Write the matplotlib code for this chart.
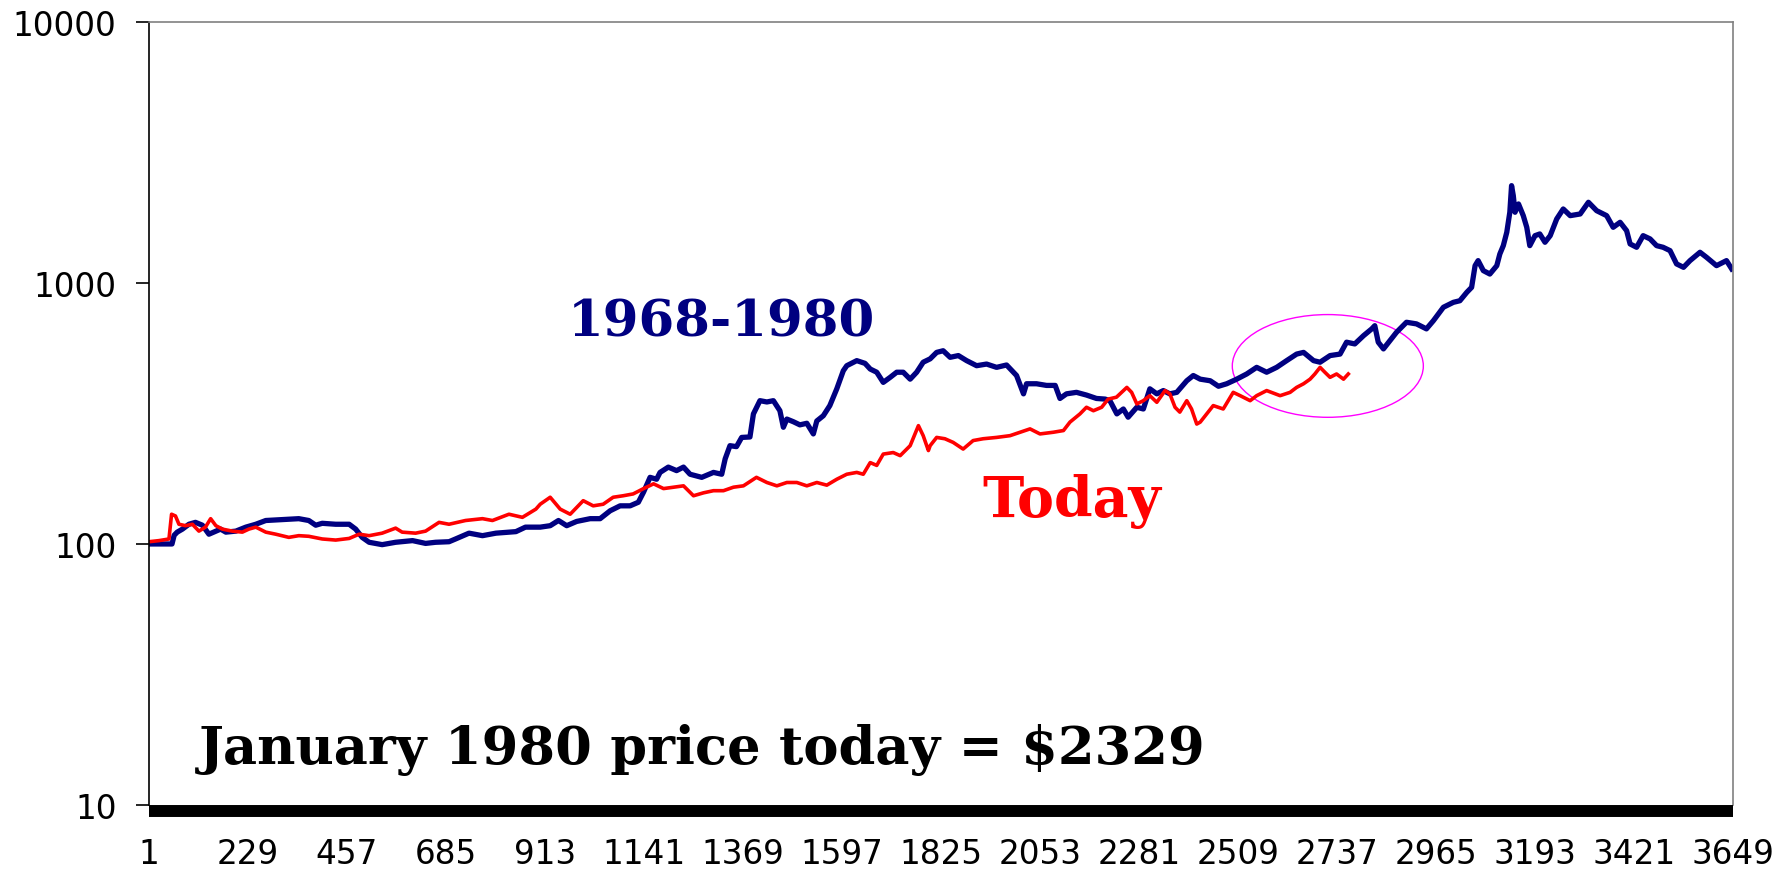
import matplotlib
matplotlib.use("Agg")
import matplotlib.pyplot as plt
from matplotlib.patches import Ellipse

# trading day index vs price indexed to 100 at start
days_1968 = [1, 54, 59, 66, 78, 93, 108, 124, 139, 155, 166, 178, 201, 224, 247, 270, 308, 346, 369, 385,
             400, 431, 462, 477, 492, 508, 538, 569, 608, 638, 661, 692, 707, 738, 769, 800, 846, 868,
             902, 925, 944, 963, 986, 1017, 1040, 1063, 1086, 1109, 1128, 1140, 1155, 1170, 1178, 1197,
             1216, 1232, 1247, 1274, 1301, 1320, 1328, 1339, 1354, 1366, 1385, 1393, 1408, 1424, 1439,
             1454, 1462, 1470, 1485, 1500, 1516, 1531, 1539, 1554, 1569, 1585, 1600, 1608, 1631, 1650,
             1662, 1677, 1692, 1708, 1723, 1738, 1754, 1769, 1784,
             1800, 1815, 1830, 1846, 1865, 1884, 1907, 1930, 1953, 1976, 1999, 2015, 2022, 2045, 2068,
             2088, 2099, 2114, 2137, 2160, 2183, 2203, 2214, 2230, 2245, 2256, 2276, 2291, 2306, 2322,
             2337, 2352, 2368, 2391, 2406,
             2422, 2445, 2464, 2483, 2506, 2529, 2552, 2575, 2598, 2621, 2644, 2660, 2683, 2698,
             2721, 2744, 2759, 2778, 2798, 2817, 2824, 2832, 2844, 2859, 2874, 2897, 2920, 2943, 2959,
             2982, 3005, 3020, 3036, 3047, 3055, 3062, 3074, 3089, 3105, 3112, 3120, 3128, 3135, 3139,
             3143, 3147, 3155, 3166, 3174, 3181, 3193, 3204, 3216, 3228, 3243, 3258, 3274, 3297, 3316,
             3335, 3358, 3373, 3389, 3404, 3412, 3427, 3442, 3458, 3473, 3488, 3504, 3519, 3535, 3550,
             3573, 3588, 3611, 3634, 3646]
price_1968 = [100, 100, 108, 111, 114, 119, 121, 118, 109, 112, 114, 111, 112, 116, 119, 123, 124, 125, 123, 118,
              120, 119, 119, 114, 106, 101.5, 99.4, 101.5, 103, 100.5, 101.5, 102, 104.5, 110, 107.6, 110, 111.5, 116,
              116, 117.5, 123, 117.5, 122, 125, 125, 134, 140, 140, 144.5, 158, 180, 177, 188, 197,
              191, 197, 185, 180, 188, 185, 212, 238, 236, 256, 257, 315, 354, 350, 354,
              324, 280, 301, 294, 286, 290, 264, 296, 310, 339, 393, 461, 482, 504, 492,
              468, 455, 416, 435, 455, 455, 428, 455, 497,
              512, 542, 550, 519, 527, 504, 482, 489, 475, 485, 442, 376, 411, 411, 405,
              405, 361, 376, 381, 372, 361, 359, 354, 315, 329, 306, 334, 329, 393, 376,
              387, 376, 381, 422, 442,
              428, 422, 402, 411, 428, 448, 475, 455, 475, 504, 534, 542, 504, 497,
              527, 534, 593, 584, 628, 667, 686, 593, 559, 601, 647, 707, 697, 667, 717,
              807, 843, 855, 921, 962, 1165, 1218, 1115, 1082, 1165, 1291, 1390, 1564, 1866, 2360,
              2161, 1866, 2008, 1811, 1634, 1390, 1518, 1541, 1432, 1518, 1759, 1921, 1811, 1838, 2038,
              1892, 1811, 1634, 1708, 1586, 1411, 1370, 1518, 1475, 1390, 1370, 1330, 1183, 1148, 1218,
              1311, 1254, 1165, 1218, 1132]

days_today = [1, 24, 47, 53, 62, 70, 85, 101, 116, 131, 143, 155, 170, 193, 216, 231, 247, 270, 293, 323,
              346, 369, 400, 431, 462, 485, 508, 538, 569, 584, 615, 638, 669, 692, 730, 769, 792, 830,
              861, 892,
              902, 925, 948, 971, 1001, 1024, 1047, 1070, 1093, 1116, 1140, 1163, 1186, 1209, 1232, 1255,
              1278, 1301, 1324, 1347, 1370, 1400, 1424, 1447, 1470, 1493, 1516, 1539, 1562, 1585, 1608,
              1631, 1646, 1662, 1677, 1692, 1715, 1731, 1754, 1773, 1784, 1796,
              1800, 1815, 1834, 1853, 1876, 1899, 1922, 1953, 1984, 2007, 2030, 2053, 2084, 2107, 2122,
              2145, 2160, 2176, 2195, 2210, 2229, 2253, 2264, 2276, 2291, 2306, 2322, 2341, 2352, 2364,
              2375, 2391, 2402, 2414,
              2422, 2437, 2452, 2475, 2498, 2514, 2537, 2552, 2575, 2606, 2629, 2644, 2660, 2675, 2686,
              2698, 2709, 2721, 2736, 2752, 2763]
price_today = [102, 103, 104.5, 130, 128, 119, 117.5, 119, 112, 116, 125, 117.5, 114, 112, 111, 114, 116, 111, 109, 106,
               107.6, 107, 104.5, 103.5, 105, 109, 107.6, 110, 115, 111, 110, 112, 121, 119, 123, 125, 123, 130,
               126.5, 136,
               142, 151, 136, 130, 146.5, 140, 142, 151, 153, 155.5, 163, 170, 163, 165, 167, 153,
               157, 160, 160, 165, 167, 180, 172, 167, 172, 172, 167, 172, 168, 177, 185,
               188, 185, 205, 200, 221, 224, 218, 238, 284, 260, 228,
               238, 256, 253, 245, 231, 249, 253, 256, 260, 268, 276, 264, 268, 272, 293,
               315, 334, 324, 334, 359, 365, 398, 381, 344, 354, 370, 349, 387, 376, 334,
               320, 354, 329, 288,
               293, 315, 339, 329, 381, 370, 354, 370, 387, 370, 381, 398, 411, 428, 448,
               475, 455, 435, 448, 428, 448]

x_ticks = [1, 229, 457, 685, 913, 1141, 1369, 1597, 1825, 2053, 2281, 2509, 2737, 2965, 3193, 3421, 3649]
y_ticks = [10, 100, 1000, 10000]

# wide sans so the tick numbers get the stretched look of the original
plt.rcParams["font.family"] = ["DejaVu Sans"]
plt.rcParams["font.size"] = 23.5

fig = plt.figure(figsize=(17.8, 8.7), dpi=100)
ax = fig.add_axes([0.0837, 0.0736, 0.8899, 0.9000])

ax.plot(days_1968, price_1968, color="#000080", lw=3.8)
ax.plot(days_today, price_today, color="#FF0000", lw=2.6)

ax.set_yscale("log")
ax.set_ylim(10, 10000)
ax.set_xlim(1, 3649)
ax.set_yticks(y_ticks)
ax.set_yticklabels([str(v) for v in y_ticks])
ax.minorticks_off()
ax.set_xticks(x_ticks)
ax.set_xticklabels([str(v) for v in x_ticks])

ax.tick_params(axis="both", labelsize=23.5)
ax.tick_params(axis="y", length=9.4, width=1.2, pad=14, direction="out")
ax.tick_params(axis="x", length=0, pad=19)

# heavy bottom axis bar like the excel original
ax.spines["bottom"].set_linewidth(8.6)
ax.spines["bottom"].set_position(("outward", 4.3))
ax.spines["bottom"].set_capstyle("butt")
ax.spines["left"].set_linewidth(1.2)
ax.spines["top"].set_color("#808080")
ax.spines["right"].set_color("#808080")
ax.spines["top"].set_linewidth(1.2)
ax.spines["right"].set_linewidth(1.2)

ax.text(0.2645, 0.600, "1968-1980", transform=ax.transAxes, color="#000080",
        fontsize=37, fontweight="bold", family="DejaVu Serif", va="baseline")
ax.text(0.526, 0.369, "Today", transform=ax.transAxes, color="#FF0000",
        fontsize=40, fontweight="bold", family="DejaVu Serif", va="baseline")
ax.text(0.0316, 0.0536, "January 1980 price today = $2329", transform=ax.transAxes,
        color="black", fontsize=38, fontweight="bold", family="DejaVu Serif", va="baseline")

ax.add_patch(Ellipse((0.7442, 0.5607), 0.1206, 0.1312, transform=ax.transAxes,
                     fill=False, edgecolor="#FF00FF", lw=1.0))

fig.savefig("out.png", dpi=100)
